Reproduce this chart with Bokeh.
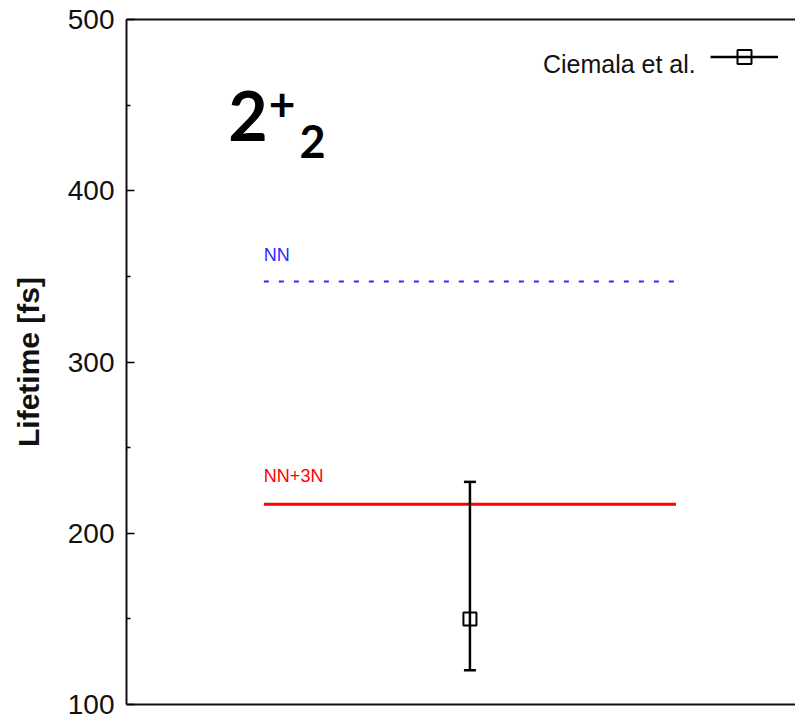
from bokeh.plotting import figure
from bokeh.models import Range1d, FixedTicker, LinearAxis, Label, Legend, LegendItem, ColumnDataSource
from bokeh.core.properties import value
from bokeh.embed import file_html
from bokeh.resources import INLINE

# ---- data ----
methods = ["NN", "NN+3N"]
lifetimes = [347, 217]
theory_x_start = [1, 1]
theory_x_end = [4, 4]

exp_label = "Ciemala et al."
exp_x = [2.5]
exp_val = [150]
exp_lo = [120]
exp_hi = [230]

yticks = [100, 200, 300, 400, 500]
yminor = [150, 250, 350, 450]

FONT = "Liberation Sans"

p = figure(width=795, height=716, x_range=Range1d(0, 4.87), y_range=Range1d(100, 500),
           output_backend="svg", toolbar_location=None, x_axis_location=None,
           min_border_left=126, min_border_top=19, min_border_bottom=12, min_border_right=0)
p.outline_line_color = None
p.xgrid.visible = False
p.ygrid.visible = False
p.background_fill_color = "white"
p.border_fill_color = "white"

for loc in ("below", "above"):
    ax = LinearAxis(ticker=FixedTicker(ticks=[]), major_label_text_font_size="0px",
                    major_tick_line_color=None, minor_tick_line_color=None,
                    axis_line_width=2, axis_line_color="#111111", major_label_standoff=0)
    p.add_layout(ax, loc)

ya = p.yaxis[0]
ya.ticker = FixedTicker(ticks=yticks, minor_ticks=yminor)
ya.axis_line_width = 2
ya.axis_line_color = "#111111"
ya.major_tick_in = 8
ya.major_tick_out = 0
ya.minor_tick_in = 4
ya.minor_tick_out = 0
ya.major_tick_line_width = 1.5
ya.minor_tick_line_width = 1.5
ya.major_label_text_font = FONT
ya.major_label_text_font_size = "28px"
ya.major_label_text_color = "#111111"
ya.major_label_standoff = 12
ya.axis_label = "Lifetime [fs]"
ya.axis_label_text_font = FONT
ya.axis_label_text_font_style = "bold"
ya.axis_label_text_font_size = "30px"
ya.axis_label_text_color = "#111111"
ya.axis_label_standoff = 20

# theory lines
src_nn = ColumnDataSource(dict(x0=theory_x_start[:1], x1=theory_x_end[:1], y=lifetimes[:1], t=methods[:1]))
src_3n = ColumnDataSource(dict(x0=theory_x_start[1:], x1=theory_x_end[1:], y=lifetimes[1:], t=methods[1:]))
p.segment(x0="x0", y0="y", x1="x1", y1="y", source=src_nn, line_color="#2a2aff",
          line_width=2, line_dash="5 10")
p.segment(x0="x0", y0="y", x1="x1", y1="y", source=src_3n, line_color="#ff0000",
          line_width=3)
p.text(x="x0", y="y", text="t", source=src_nn, text_color="#2a2aff", y_offset=-27,
       text_font=value(FONT), text_font_size="18px", text_baseline="alphabetic")
p.text(x="x0", y="y", text="t", source=src_3n, text_color="#ff0000", y_offset=-28,
       text_font=value(FONT), text_font_size="18px", text_baseline="alphabetic")

# experiment
src_e = ColumnDataSource(dict(x=exp_x, v=exp_val, lo=exp_lo, hi=exp_hi))
seg = p.segment(x0="x", y0="lo", x1="x", y1="hi", source=src_e, line_color="black", line_width=2.5)
p.scatter(x="x", y="lo", source=src_e, marker="dash", size=12, line_color="black", line_width=2.5)
p.scatter(x="x", y="hi", source=src_e, marker="dash", size=12, line_color="black", line_width=2.5)
sq = p.scatter(x="x", y="v", source=src_e, marker="square", size=13, fill_color=None,
               line_color="black", line_width=2)

legend = Legend(items=[LegendItem(label="", renderers=[seg, sq])], location=(584, 630),
                glyph_width=68, glyph_height=35, label_width=0, label_standoff=0,
                padding=0, margin=0, border_line_color=None, background_fill_alpha=0,
                label_text_font_size="0px")
p.add_layout(legend)
p.add_layout(Label(x=4.144, y=474, text=exp_label, text_align="right", text_baseline="alphabetic",
                   text_font=FONT, text_font_size="25px", text_color="#111111"))

# state label 2+_2
p.add_layout(Label(x=0.74, y=443.5, text="2", text_font="Lato", text_font_style="bold",
                   text_font_size="68px", text_baseline="alphabetic", text_color="black"))
p.add_layout(Label(x=1.035, y=450.5, text="+", text_font="Lato", text_font_style="bold",
                   text_font_size="46px", text_baseline="middle", text_color="black"))
p.add_layout(Label(x=1.26, y=429, text="2", text_font="Lato", text_font_style="bold",
                   text_font_size="45px", text_baseline="alphabetic", text_color="black"))

open("out.html", "w").write(file_html(p, INLINE))
